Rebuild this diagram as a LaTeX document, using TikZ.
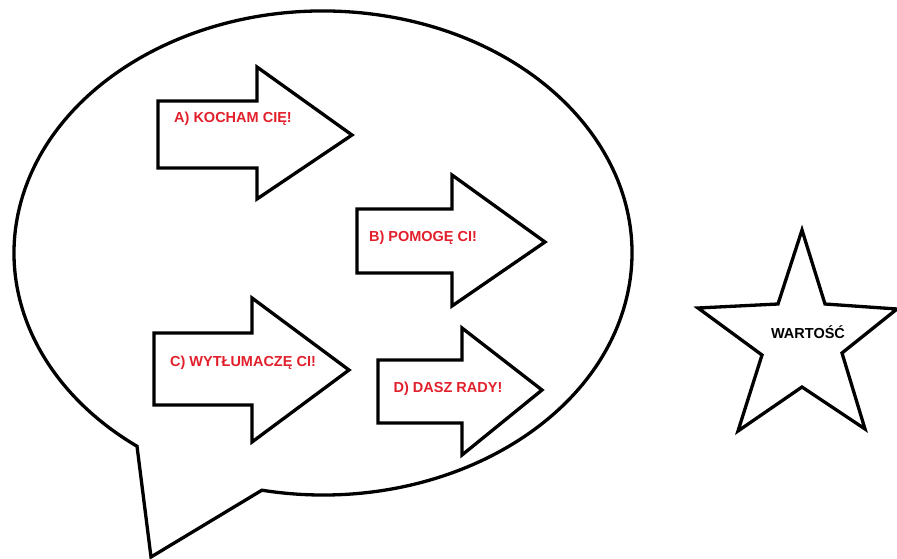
\documentclass[tikz,border=0pt]{standalone}
\usepackage{fontspec}
\setmainfont{Liberation Sans}
\definecolor{txtred}{RGB}{226,32,44}
\tikzset{
  outl/.style={draw=black, line width=3.3pt, line join=miter, fill=white},
  lbl/.style={font=\bfseries\fontsize{14.5}{16}\selectfont, text=txtred, inner sep=0pt},
  starlbl/.style={font=\bfseries\fontsize{14.5}{16}\selectfont, text=black, inner sep=0pt}
}
\begin{document}
\begin{tikzpicture}[x=1pt,y=-1pt]
\useasboundingbox[fill=white] (0,0) rectangle (897,559);
% speech bubble
\draw[outl] (261.9,490.2) arc[start angle=101.4, end angle=-233, x radius=309, y radius=242]
  -- (151,557) -- cycle;
% arrows
\draw[outl] (158,101) -- (257,101) -- (257,67) -- (352,135) -- (257,199) -- (257,168) -- (158,168) -- cycle;
\draw[outl] (357,209) -- (452,209) -- (452,175) -- (545,242) -- (452,306) -- (452,273) -- (357,273) -- cycle;
\draw[outl] (154,333) -- (252,333) -- (252,298) -- (349,370) -- (252,442) -- (252,405) -- (154,405) -- cycle;
\draw[outl] (378,360) -- (462,360) -- (462,328) -- (542,390) -- (462,455) -- (462,423) -- (378,423) -- cycle;
\node[lbl] (a) at (233,119) {A) KOCHAM CIĘ!};
\node[lbl] (b) at (423,238) {B) POMOGĘ CI!};
\node[lbl] (c) at (243,363) {C) WYTŁUMACZĘ CI!};
\node[lbl] (d) at (448,389) {D) DASZ RADY!};
% star
\draw[outl] (802,230) -- (825,304) -- (897,309) -- (842,353) -- (865,429) -- (802,387) -- (738,431) -- (762,355) -- (698,308) -- (778,304) -- cycle;
\node[starlbl] (w) at (808,332) {WARTOŚĆ};
\end{tikzpicture}
\end{document}
